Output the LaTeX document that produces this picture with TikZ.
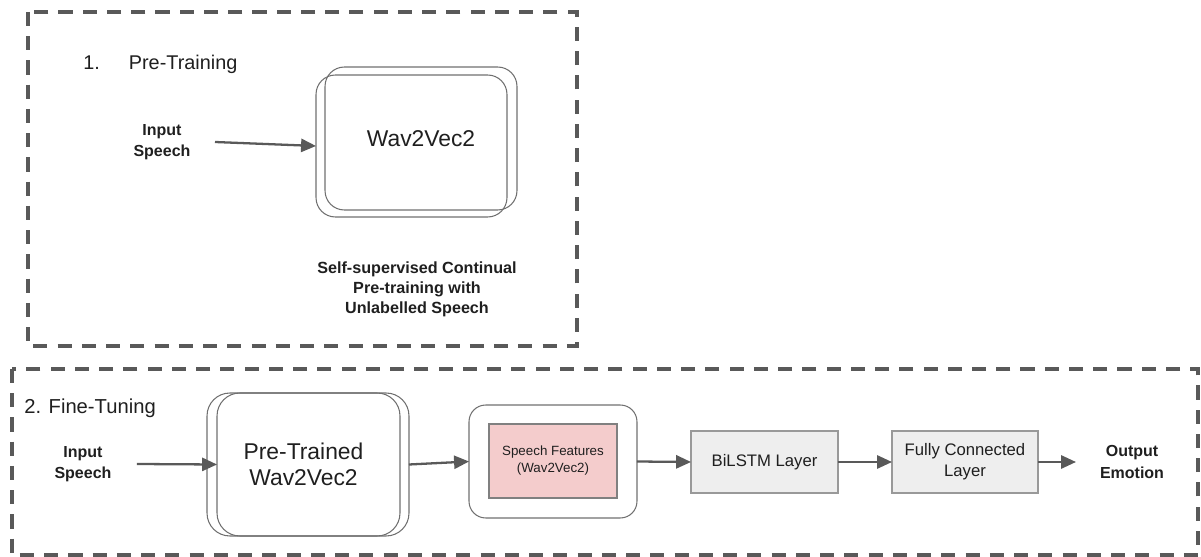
\documentclass[tikz,border=0pt]{standalone}
\usepackage{fontspec}
\setmainfont{Liberation Sans}
\usetikzlibrary{arrows.meta}
\definecolor{framegray}{HTML}{595959}
\definecolor{boxgray}{HTML}{707070}
\definecolor{featpink}{HTML}{F4CCCC}
\definecolor{layerfill}{HTML}{EEEEEE}
\definecolor{txt}{HTML}{1F1F1F}
\tikzset{
  phase/.style={draw=framegray, line width=2pt, dash pattern=on 8pt off 5.8pt},
  model/.style={draw=boxgray, line width=0.6pt, rounded corners=11pt, inner sep=0pt, outer sep=0pt},
  layer/.style={draw=gray!80, fill=layerfill, line width=0.8pt, inner sep=0pt, outer sep=0pt,
    minimum height=1.24cm, align=center, font=\fontsize{9.5}{12}\selectfont},
  io/.style={align=center, inner sep=0pt, outer sep=0pt, text=txt, font=\bfseries\fontsize{9.1}{12}\selectfont},
  link/.style={draw=framegray, line width=1.3pt, -{Triangle[length=8.5pt,width=7.5pt]}}
}

\begin{document}
\begin{tikzpicture}[x=0.02cm, y=-0.02cm, text=txt]
\useasboundingbox (0,0) rectangle (1201,557);
% 1. pre-training
\draw[phase] (28,12) rectangle (577,346);
\node[anchor=west, inner sep=0pt, font=\fontsize{11.3}{13}\selectfont] (pretrain) at (83,64) {1.\hspace{16.5pt}Pre-Training};
\node[io, minimum width=2.12cm] (in1) at (162,142) {Input\\Speech};
\node[model, minimum width=3.82cm, minimum height=2.84cm] (wback) at (411.5,146) {};
\node[model, minimum width=3.84cm, minimum height=2.86cm, font=\fontsize{13}{15}\selectfont] (wav) at (421,138.5) {Wav2Vec2};
\node[io, font=\bfseries\fontsize{9.2}{11.4}\selectfont] (ssl) at (417,289) {Self-supervised Continual\\Pre-training with\\Unlabelled Speech};
\draw[link] (in1.east) -- (wback.west);
% 2. fine-tuning
\draw[phase] (12,369) rectangle (1198,555);
\node[anchor=west, inner sep=0pt, font=\fontsize{11.5}{13}\selectfont] (finetune) at (24,408) {2. Fine-Tuning};
\node[io, minimum width=2.16cm] (in2) at (83,464) {Input\\Speech};
\node[model, rounded corners=13pt, minimum width=3.86cm, minimum height=2.86cm, align=center,
  font=\fontsize{13}{14.8}\selectfont] (ptback) at (303.5,464.5) {Pre-Trained\\Wav2Vec2};
\node[model, rounded corners=13pt, minimum width=3.84cm, minimum height=2.86cm] (pt) at (313,464.5) {};
\node[model, rounded corners=9.5pt, minimum width=3.36cm, minimum height=2.26cm] (feat) at (553,461.5) {};
\node[draw=gray, fill=featpink, line width=0.7pt, inner sep=0pt, minimum width=2.56cm, minimum height=1.48cm,
  align=center, font=\fontsize{7.6}{9.7}\selectfont] (featin) at (553,461) {Speech Features\\(Wav2Vec2)};
\node[layer, minimum width=2.94cm] (lstm) at (764.5,462) {BiLSTM Layer};
\node[layer, minimum width=2.92cm] (fc) at (965,462) {Fully Connected\\Layer};
\node[io, minimum width=2.24cm] (out) at (1132,462) {Output\\Emotion};
\draw[link] (in2.east) -- (pt.west);
\draw[link] (pt.east) -- (feat.west);
\draw[link] (feat.east) -- (lstm.west);
\draw[link] (lstm.east) -- (fc.west);
\draw[link] (fc.east) -- (out.west);
\end{tikzpicture}
\end{document}
